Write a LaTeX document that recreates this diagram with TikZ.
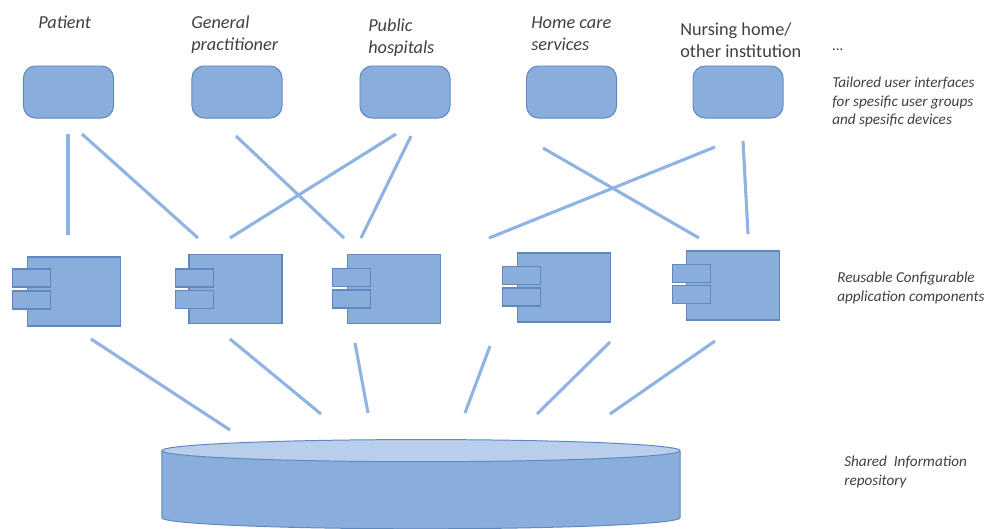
\documentclass[tikz,border=0pt]{standalone}
\usepackage{fontspec}
\setmainfont{Carlito}
\usetikzlibrary{shapes.geometric}
\definecolor{boxfill}{HTML}{8AAEDC}
\definecolor{boxline}{HTML}{5F88C0}
\definecolor{linkblue}{HTML}{8FB4E3}
\definecolor{lidfill}{HTML}{B8CEEB}
\definecolor{txtgrey}{HTML}{404040}
\tikzset{
  uibox/.style={draw=boxline,fill=boxfill,line width=0.7pt,rounded corners=0.3cm,minimum width=2.25cm,minimum height=1.3cm},
  compbody/.style={draw=boxline,fill=boxfill,line width=0.9pt,minimum width=2.33cm,minimum height=1.72cm},
  comptab/.style={draw=boxline,fill=boxfill,line width=0.9pt,minimum width=0.96cm,minimum height=0.45cm},
  link/.style={draw=linkblue,line width=2.2pt},
  usertxt/.style={anchor=west,align=left,inner sep=0pt,text=txtgrey,font=\fontsize{13}{15.6}\selectfont\itshape},
  notetxt/.style={anchor=west,align=left,inner sep=0pt,text=txtgrey,font=\fontsize{10.8}{13.3}\selectfont\itshape}
}
\begin{document}
\begin{tikzpicture}[x=0.025cm,y=-0.025cm]
    \useasboundingbox (0,0) rectangle (984,528);
    % user groups
    \node[usertxt] (lbPatient) at (38,22){Patient};
    \node[usertxt] (lbGeneral) at (191,35){General\\practitioner};
    \node[usertxt] (lbPublic) at (368,38){Public\\hospitals};
    \node[usertxt] (lbHome) at (531,34){Home care\\services};
    \node[usertxt,font=\fontsize{13}{15.6}\selectfont] (lbNursing) at (680,40){Nursing home/\\other institution};
    \node[notetxt] (lbDots) at (832,50){...};
    % interfaces
    \node[uibox] (uiPatient) at (68.5,92){}; \node[uibox] (uiGeneral) at (237,92){};
    \node[uibox] (uiPublic) at (405,92){}; \node[uibox] (uiHome) at (571.5,92){};
    \node[uibox] (uiNursing) at (738,92){};
    \node[notetxt] (lbTailored) at (832,102){Tailored user interfaces\\for spesific user groups\\and spesific devices};
    % components
    \node[compbody] (compA) at (74,291.5){};
    \node[comptab] (tabAa) at (31.5,278){}; \node[comptab] (tabAb) at (31.5,300){};
    \node[compbody] (compB) at (235.5,289){};
    \node[comptab] (tabBa) at (194.5,278){}; \node[comptab] (tabBb) at (194.5,299.5){};
    \node[compbody] (compC) at (394,289){};
    \node[comptab] (tabCa) at (351.5,277.5){}; \node[comptab] (tabCb) at (351.5,299){};
    \node[compbody] (compD) at (564,287.5){};
    \node[comptab] (tabDa) at (521.5,275.5){}; \node[comptab] (tabDb) at (521.5,297){};
    \node[compbody] (compE) at (733,285.5){};
    \node[comptab] (tabEa) at (691.5,273.5){}; \node[comptab] (tabEb) at (691.5,294.5){};
    \node[notetxt] (lbReusable) at (837,288){Reusable Configurable\\application components};
    % repository
    \node[cylinder,shape border rotate=90,aspect=2.36,draw=boxline,line width=0.7pt,cylinder uses custom fill,
      cylinder body fill=boxfill,cylinder end fill=lidfill,minimum width=12.95cm,minimum height=2.23cm,outer sep=0pt] (repo) at (421,491){};
    \node[notetxt] (lbShared) at (844,472){Shared~ Information\\repository};
    % links, top row
    \coordinate (ua) at (68,134); \coordinate (ca) at (68,235); \draw[link] (ua) -- (ca);
    \coordinate (ub) at (82,134); \coordinate (cb) at (198,238); \draw[link] (ub) -- (cb);
    \coordinate (uc) at (236,136); \coordinate (cc) at (344,238); \draw[link] (uc) -- (cc);
    \coordinate (ud) at (396,134); \coordinate (cd) at (230,238); \draw[link] (ud) -- (cd);
    \coordinate (ue) at (411,136); \coordinate (ce) at (361,238); \draw[link] (ue) -- (ce);
    \coordinate (uf) at (543,148); \coordinate (cf) at (699,238); \draw[link] (uf) -- (cf);
    \coordinate (ug) at (715,147); \coordinate (cg) at (489,238); \draw[link] (ug) -- (cg);
    \coordinate (uh) at (743,141); \coordinate (ch) at (748,234); \draw[link] (uh) -- (ch);
    % links, bottom row
    \coordinate (da) at (91,339); \coordinate (ra) at (230,430); \draw[link] (da) -- (ra);
    \coordinate (db) at (230,339); \coordinate (rb) at (321,414); \draw[link] (db) -- (rb);
    \coordinate (dc) at (355,343); \coordinate (rc) at (368,413); \draw[link] (dc) -- (rc);
    \coordinate (dd) at (490,346); \coordinate (rd) at (465,413); \draw[link] (dd) -- (rd);
    \coordinate (de) at (610,342); \coordinate (re) at (537,414); \draw[link] (de) -- (re);
    \coordinate (df) at (715,341); \coordinate (rf) at (610,414); \draw[link] (df) -- (rf);
\end{tikzpicture}
\end{document}
